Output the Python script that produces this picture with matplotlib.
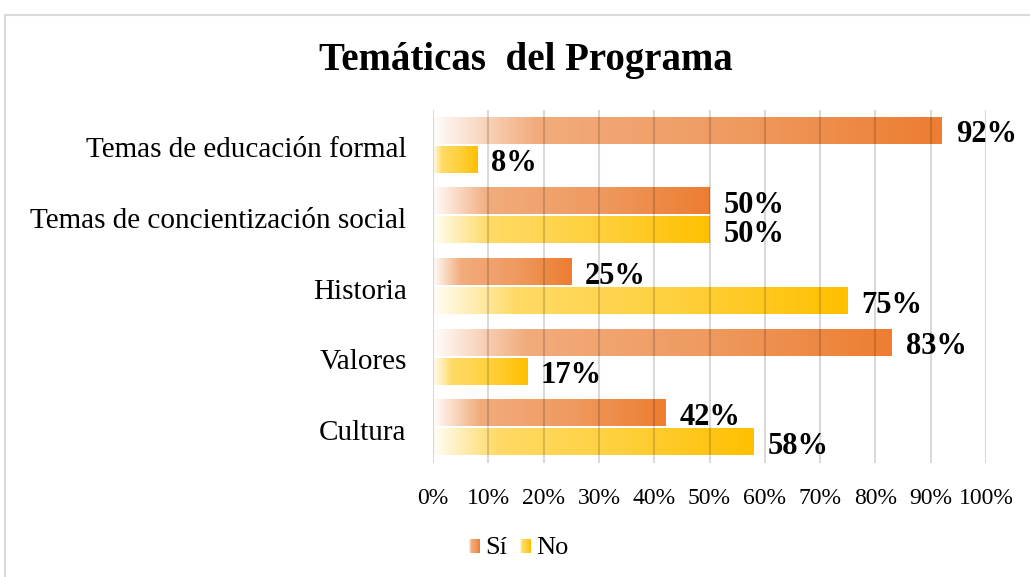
import numpy as np
import matplotlib
matplotlib.use("Agg")
import matplotlib.pyplot as plt
from matplotlib.colors import LinearSegmentedColormap
from matplotlib.patches import Rectangle

plt.rcParams['font.family'] = ['Liberation Serif', 'DejaVu Serif']

# data (top to bottom in the picture)
categorias = ['Temas de educación formal', 'Temas de concientización social',
              'Historia', 'Valores', 'Cultura']
si = [92, 50, 25, 83, 42]
no = [8, 50, 75, 17, 58]
ticks = [0, 10, 20, 30, 40, 50, 60, 70, 80, 90, 100]

# gradients white -> colour, like the Excel fill
cm_si = LinearSegmentedColormap.from_list(
    'si', [(0, '#FFFCFA'), (0.2, '#F2AC7C'), (0.6, '#EF9A60'), (1, '#ED7D31')])
cm_no = LinearSegmentedColormap.from_list(
    'no', [(0, '#FFFDF5'), (0.2, '#FFDA66'), (0.6, '#FFD03C'), (1, '#FFC000')])
grad = np.linspace(0, 1, 256).reshape(1, -1)

fig = plt.figure(figsize=(10.30, 5.77), dpi=100)
ax = fig.add_axes([0.4204, 0.1976, 0.5369, 0.6118])

# chart frame
fig.patches.append(Rectangle((5 / 1030, -0.1), 1.1, 1.1 - 15 / 577,
                             transform=fig.transFigure, fill=False,
                             edgecolor='#D9D9D9', lw=1.5, clip_on=False))

n = len(categorias)
y = np.arange(n)[::-1]
h = 0.37
off = 0.205


def barra(val, yc, cmap):
    ax.imshow(grad, cmap=cmap, aspect='auto', interpolation='bilinear',
              extent=(0, val, yc - h / 2, yc + h / 2), zorder=2)
    ax.annotate(f'{val}%', (val, yc), xytext=(10, -3), textcoords='offset points',
                ha='left', va='center', fontsize=22, fontweight='bold', zorder=4)


for i in range(n):
    barra(si[i], y[i] + off, cm_si)
    barra(no[i], y[i] - off, cm_no)

ax.set_xlim(0, 100)
ax.set_ylim(-0.5, n - 0.5)
ax.set_xticks(ticks)
ax.set_xticklabels([f'{t}%' for t in ticks], fontsize=17)
ax.set_yticks(y - 0.03)
ax.set_yticklabels(categorias, fontsize=21)
ax.tick_params(axis='x', length=0, pad=18)
ax.tick_params(axis='y', length=0, pad=19)
ax.grid(axis='x', color='k', alpha=0.15, lw=1.5, zorder=3)
ax.set_axisbelow(False)
for s in ax.spines.values():
    s.set_visible(False)

fig.text(0.511, 0.896, 'Temáticas  del Programa', ha='center', va='center',
         fontsize=28, fontweight='bold')

# legend with gradient swatches
for x0, cmap, lab in [(469, cm_si, 'Sí'), (520, cm_no, 'No')]:
    sw = fig.add_axes([x0 / 1030, 1 - 553 / 577, 11 / 1030, 14 / 577])
    sw.imshow(grad, cmap=cmap, aspect='auto', interpolation='bilinear')
    sw.axis('off')
    fig.text((x0 + 16) / 1030, 1 - 548 / 577, lab, ha='left', va='center', fontsize=19)

fig.savefig('out.png', dpi=100)
